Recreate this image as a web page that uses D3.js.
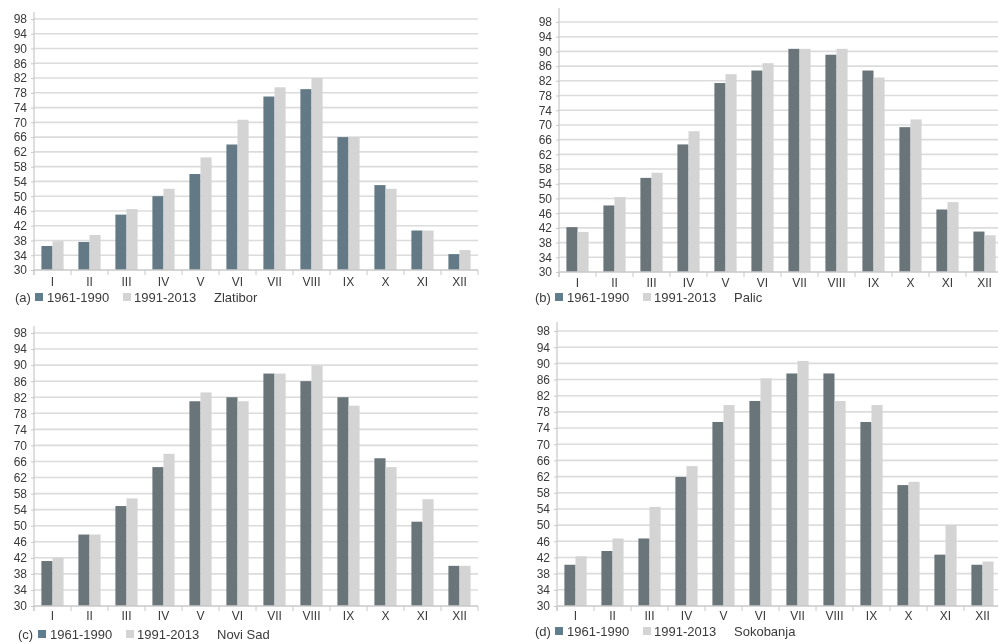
<!DOCTYPE html>
<html>
<head>
<meta charset="utf-8">
<script src="https://cdn.jsdelivr.net/npm/d3@7"></script>
<style>
  html, body { margin: 0; padding: 0; background: #fff; }
  svg { display: block; }
  text { font-family: "Liberation Sans", Arial, Helvetica, sans-serif; fill: #3a3a3a; }
</style>
</head>
<body>
<svg id="chart" width="998" height="644"></svg>
<script>
// Monthly values per station, two reference periods
const months = ["I", "II", "III", "IV", "V", "VI", "VII", "VIII", "IX", "X", "XI", "XII"];
const yTicks = [30, 34, 38, 42, 46, 50, 54, 58, 62, 66, 70, 74, 78, 82, 86, 90, 94, 98];
const periods = ["1961-1990", "1991-2013"];
const stations = ["Zlatibor", "Palic", "Novi Sad", "Sokobanja"];
const panelTags = ["(a)", "(b)", "(c)", "(d)"];

const zlatiborOld = [36.5, 37.6, 45, 50, 56, 64, 77, 79, 66, 53, 40.7, 34.3];
const zlatiborNew = [37.8, 39.5, 46.5, 52, 60.5, 70.7, 79.5, 82, 66, 52, 40.7, 35.4];
const palicOld = [42.2, 48.1, 55.6, 64.7, 81.4, 84.8, 90.7, 89.1, 84.8, 69.4, 47, 41];
const palicNew = [40.9, 50.4, 57, 68.3, 83.8, 86.8, 90.7, 90.7, 82.9, 71.5, 49, 40];
const noviSadOld = [41.2, 47.8, 54.9, 64.6, 81, 82, 87.9, 86, 82, 66.8, 51, 40];
const noviSadNew = [42, 47.8, 56.8, 67.9, 83.2, 81, 87.9, 89.9, 79.9, 64.6, 56.6, 40];
const sokobanjaOld = [40.2, 43.6, 46.7, 61.9, 75.5, 80.7, 87.5, 87.5, 75.5, 59.9, 42.7, 40.2];
const sokobanjaNew = [42.3, 46.7, 54.5, 64.6, 79.7, 86.3, 90.6, 80.7, 79.7, 60.7, 50, 41];

const seriesByStation = [
  [zlatiborOld, zlatiborNew],
  [palicOld, palicNew],
  [noviSadOld, noviSadNew],
  [sokobanjaOld, sokobanjaNew]
];

// Panel placement on the page
const layouts = [
  { left: 34,  top: 19,  bottom: 270, axisTop: 12, labelY: 286, legendY: 302, tagX: 15,  dark: "#637986" },
  { left: 559, top: 22,  bottom: 272, axisTop: 8,  labelY: 287, legendY: 302, tagX: 535, dark: "#6b7579" },
  { left: 34,  top: 333, bottom: 606, axisTop: 326, labelY: 620, legendY: 639, tagX: 18,  dark: "#6b7579" },
  { left: 557, top: 331, bottom: 606, axisTop: 322, labelY: 620, legendY: 636, tagX: 535, dark: "#6b7579" }
];
const plotWidth = 444;
const lightColor = "#d4d4d4";
const swatchDark = "#5e7d8d";
const gridColor = "#dcdcdc";
const axisColor = "#c8c8c8";

const svg = d3.select("#chart");
svg.append("rect").attr("width", 998).attr("height", 644).attr("fill", "#fff");

const defs = svg.append("defs");
defs.append("filter").attr("id", "soft")
  .append("feGaussianBlur").attr("stdDeviation", 0.45);

const root = svg.append("g").attr("filter", "url(#soft)");

layouts.forEach((L, p) => {
  const g = root.append("g").attr("transform", `translate(${L.left},0)`);

  const y = d3.scaleLinear().domain([30, 98]).range([L.bottom, L.top]);
  const x0 = d3.scaleBand().domain(months).range([0, plotWidth])
    .paddingInner(0.4).paddingOuter(0.2);
  const x1 = d3.scaleBand().domain(periods).range([0, x0.bandwidth()]);

  // horizontal grid
  g.append("g").selectAll("line").data(yTicks.slice(1)).join("line")
    .attr("x1", 0).attr("x2", plotWidth)
    .attr("y1", d => y(d)).attr("y2", d => y(d))
    .attr("stroke", gridColor).attr("stroke-width", 1.6);

  // bars
  const colors = [L.dark, lightColor];
  const groups = g.append("g").selectAll("g").data(months).join("g")
    .attr("transform", d => `translate(${x0(d)},0)`);
  groups.selectAll("rect")
    .data((m, i) => periods.map((per, k) => ({ per, k, v: seriesByStation[p][k][i] })))
    .join("rect")
    .attr("x", d => x1(d.per))
    .attr("width", x1.bandwidth())
    .attr("y", d => y(d.v))
    .attr("height", d => y(30) - y(d.v))
    .attr("fill", d => colors[d.k]);

  // y axis
  const yAxis = d3.axisLeft(y).tickValues(yTicks).tickSize(3).tickPadding(4);
  const ya = g.append("g").call(yAxis);
  ya.select(".domain").remove();
  ya.selectAll(".tick line").attr("stroke", axisColor);
  ya.selectAll(".tick text").attr("font-size", 12).style("fill", "#3a3a3a")
    .attr("font-family", "Liberation Sans, Arial, sans-serif");
  g.append("line").attr("x1", 0).attr("x2", 0)
    .attr("y1", L.axisTop).attr("y2", L.bottom + 5)
    .attr("stroke", axisColor).attr("stroke-width", 1.2);

  // x axis baseline, boundary ticks and month labels
  g.append("line").attr("x1", 0).attr("x2", plotWidth)
    .attr("y1", y(30)).attr("y2", y(30))
    .attr("stroke", axisColor).attr("stroke-width", 1.4);
  g.append("g").selectAll("line").data(d3.range(months.length + 1)).join("line")
    .attr("x1", i => i * x0.step()).attr("x2", i => i * x0.step())
    .attr("y1", y(30)).attr("y2", y(30) + 5)
    .attr("stroke", axisColor);
  g.append("g").selectAll("text").data(months).join("text")
    .attr("x", d => x0(d) + x0.bandwidth() / 2)
    .attr("y", L.labelY)
    .attr("text-anchor", "middle")
    .attr("font-size", 12)
    .text(d => d);

  // legend row
  const lg = root.append("g").attr("transform", `translate(${L.tagX},${L.legendY})`);
  lg.append("text").attr("x", 0).attr("y", 0).attr("font-size", 13).text(panelTags[p]);
  lg.append("rect").attr("x", 20).attr("y", -9).attr("width", 8).attr("height", 8).attr("fill", swatchDark);
  lg.append("text").attr("x", 32).attr("y", 0).attr("font-size", 13).text(periods[0]);
  lg.append("rect").attr("x", 108).attr("y", -9).attr("width", 8).attr("height", 8).attr("fill", lightColor);
  lg.append("text").attr("x", 119).attr("y", 0).attr("font-size", 13).text(periods[1]);
  lg.append("text").attr("x", 199).attr("y", 0).attr("font-size", 13).text(stations[p]);
});
</script>
</body>
</html>
